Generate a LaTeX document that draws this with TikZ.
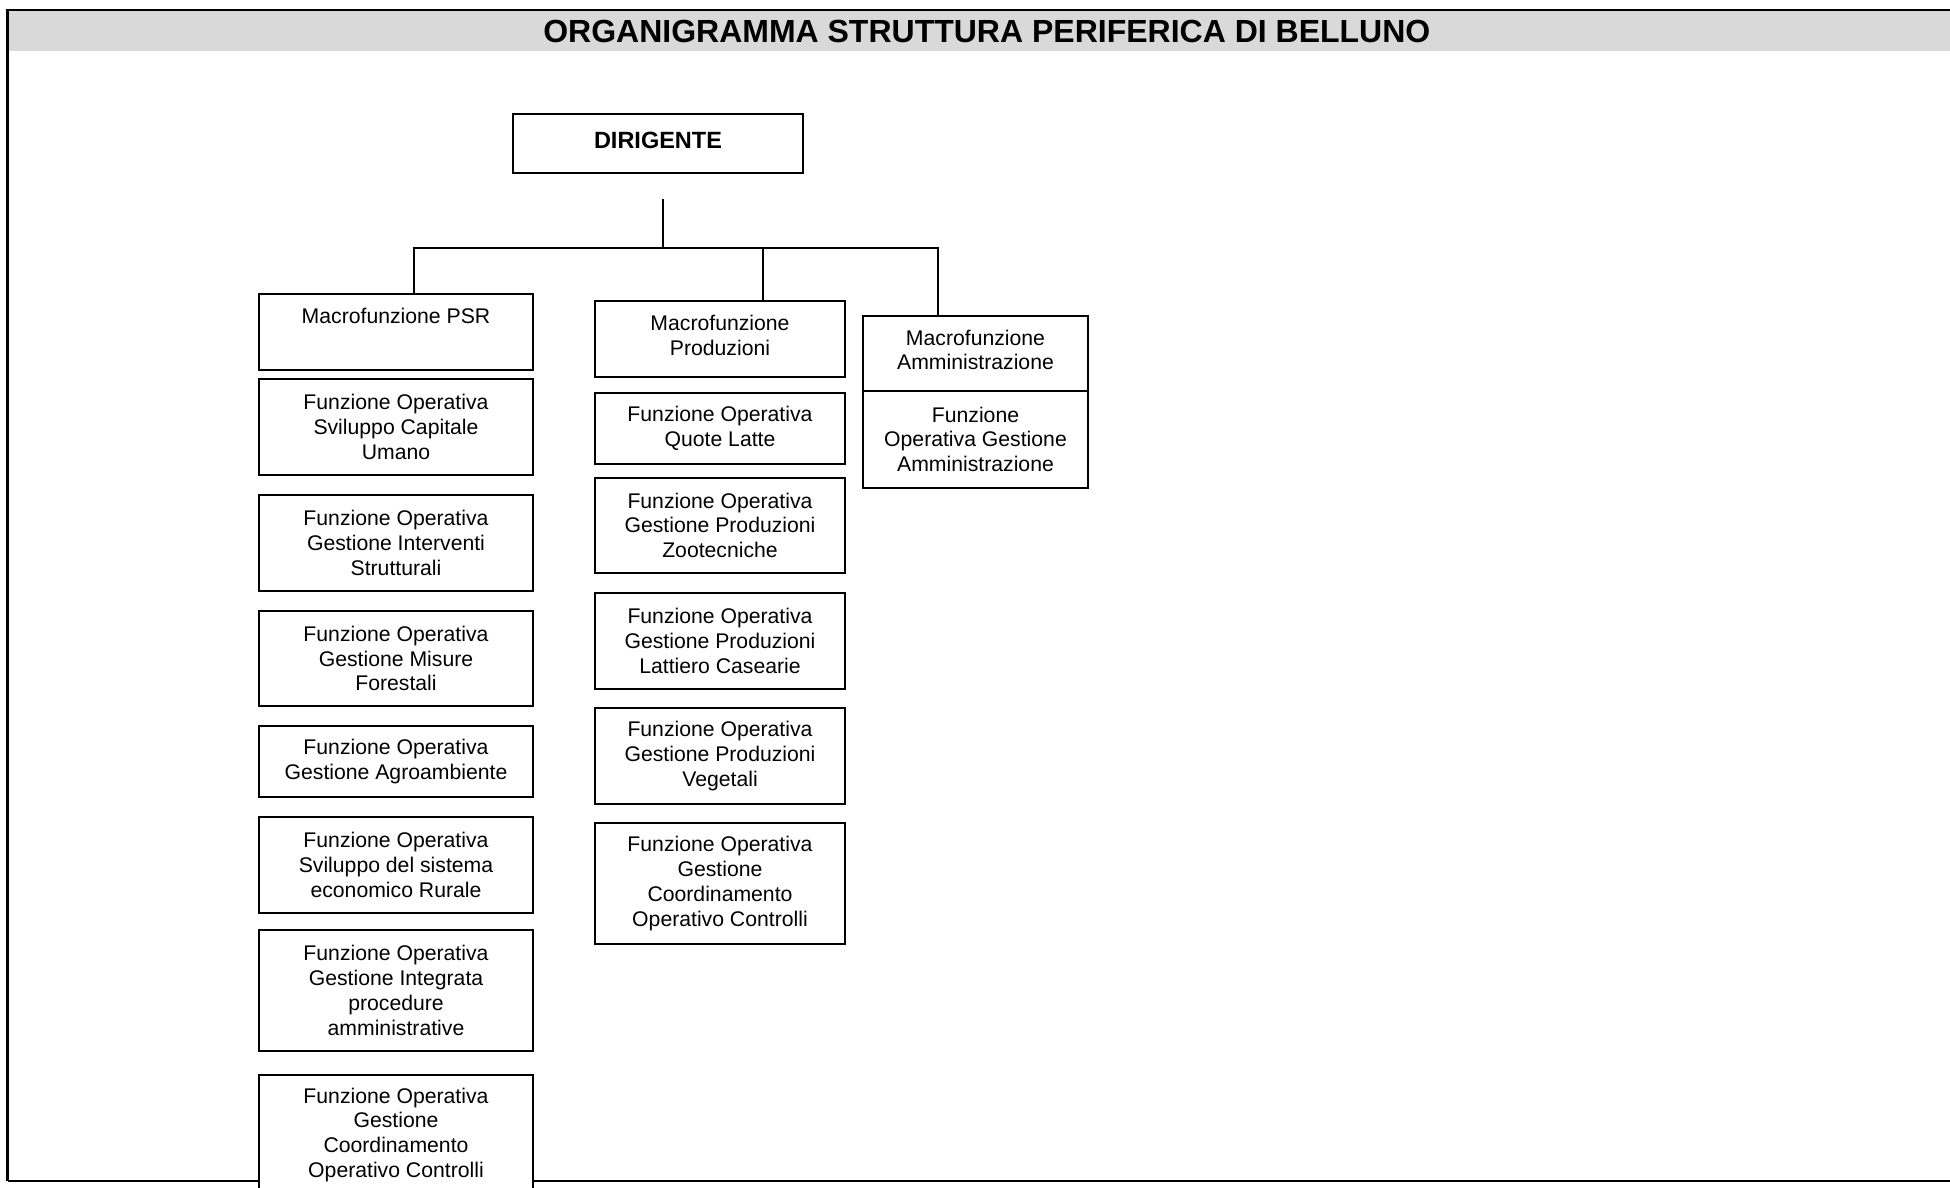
\documentclass[tikz,border=0pt]{standalone}
\usepackage{fontspec}
\setmainfont{Liberation Sans}
\definecolor{band}{HTML}{D9D9D9}
\tikzset{
  orgbox/.style={draw, line width=1pt, fill=white, align=center, inner sep=0pt,
    font=\fontsize{10.6}{12.4}\selectfont},
  colA/.style={orgbox, minimum width=137.15pt},
  colB/.style={orgbox, minimum width=125pt},
  colC/.style={orgbox, minimum width=112.5pt},
  hthree/.style={minimum height=47.85pt},
  htwo/.style={minimum height=35.6pt},
  hfour/.style={minimum height=60.3pt},
  hmacro/.style={minimum height=38pt},
  raised/.style={text depth=3.6pt},
  link/.style={line width=1pt},
  frameline/.style={line width=1.3pt},
}
\begin{document}
\begin{tikzpicture}[x=0.5pt,y=-0.5pt]
\useasboundingbox (0,0) rectangle (1950,1188);
\clip (0,0) rectangle (1950,1188);
% frame and title band
\fill[band] (7.5,10) rectangle (1950,50.7);
\draw[frameline] (7.5,1181) -- (7.5,10) -- (1950,10);
\draw[frameline] (7.5,1181) -- (1950,1181);
\node[font=\bfseries\fontsize{16}{19}\selectfont, inner sep=0pt] (title) at (986.8,31.5)
  {ORGANIGRAMMA STRUTTURA PERIFERICA DI BELLUNO};

% head
\node[orgbox, minimum width=144.7pt, minimum height=29.65pt,
  font=\bfseries\fontsize{11.75}{14}\selectfont, text depth=3.7pt] (dir) at (658,143.7) {DIRIGENTE};

% column A
\node[colA, hmacro] (psr) at (396,332) {Macrofunzione PSR\\\strut};
\node[colA, hthree] (a1) at (396,427.2) {Funzione Operativa\\Sviluppo Capitale\\Umano};
\node[colA, hthree] (a2) at (396,542.9) {Funzione Operativa\\Gestione Interventi\\Strutturali};
\node[colA, hthree] (a3) at (396,658.5) {Funzione Operativa\\Gestione Misure\\Forestali};
\node[colA, htwo] (a4) at (396,761.7) {Funzione Operativa\\Gestione Agroambiente};
\node[colA, hthree] (a5) at (396,864.9) {Funzione Operativa\\Sviluppo del sistema\\economico Rurale};
\node[colA, hfour] (a6) at (396,990.5) {Funzione Operativa\\Gestione Integrata\\procedure\\amministrative};
\node[colA, hfour] (a7) at (396,1134.8) {Funzione Operativa\\Gestione\\Coordinamento\\Operativo Controlli};

% column B
\node[colB, hmacro, raised] (prod) at (720,339.3) {Macrofunzione\\Produzioni};
\node[colB, htwo] (b1) at (720,428.5) {Funzione Operativa\\Quote Latte};
\node[colB, hthree] (b2) at (720,525.4) {Funzione Operativa\\Gestione Produzioni\\Zootecniche};
\node[colB, hthree] (b3) at (720,641.1) {Funzione Operativa\\Gestione Produzioni\\Lattiero Casearie};
\node[colB, hthree] (b4) at (720,756.1) {Funzione Operativa\\Gestione Produzioni\\Vegetali};
\node[colB, hfour] (b5) at (720,883.6) {Funzione Operativa\\Gestione\\Coordinamento\\Operativo Controlli};

% column C
\node[colC, minimum height=37.65pt, raised] (amm) at (975.5,353.4) {Macrofunzione\\Amministrazione};
\node[colC, minimum height=48.25pt] (c1) at (975.5,439.3) {Funzione\\Operativa Gestione\\Amministrazione};

% connectors
\coordinate (stemtop) at (663.3,198.7);
\coordinate (bus) at (663.3,247.5);
\coordinate (busL) at (413.7,247.5);
\coordinate (busM) at (763.3,247.5);
\coordinate (busR) at (937.7,247.5);
\draw[link] (stemtop) -- (bus);
\draw[link] (psr.north -| busL) -- (busL) -- (busR) -- (amm.north -| busR);
\draw[link] (busM) -- (prod.north -| busM);
\end{tikzpicture}
\end{document}
